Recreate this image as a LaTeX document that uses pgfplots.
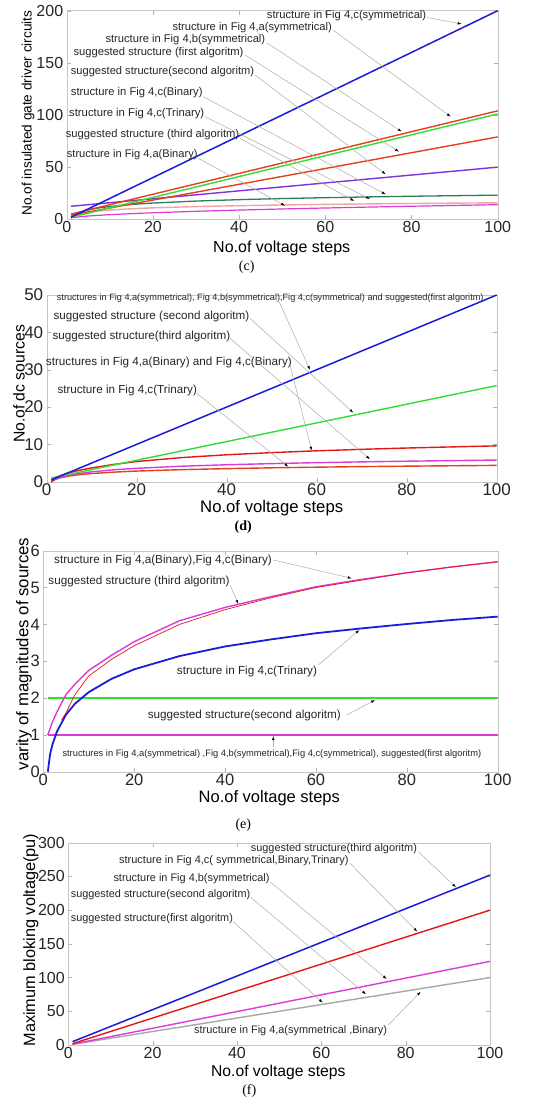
\documentclass[border=0pt]{standalone}
\usepackage{fontspec}
\setmainfont{Liberation Sans}
\newfontfamily\serif{Liberation Serif}
\usepackage{graphicx}
\usepackage{pgfplots}
\pgfplotsset{compat=1.18}
\usetikzlibrary{arrows.meta}

\definecolor{cblue}{HTML}{1C1CD8}
\definecolor{cred}{HTML}{E4401E}
\definecolor{pred}{HTML}{E41616}
\definecolor{cgreen}{HTML}{33DD33}
\definecolor{cpurple}{HTML}{8030E0}
\definecolor{dgreen}{HTML}{2E7D5E}
\definecolor{salmon}{HTML}{F2A4A0}
\definecolor{cmag}{HTML}{DA3CDA}
\definecolor{cgray}{HTML}{A8A8A8}

\pgfplotsset{
  mat/.style={
    scale only axis, anchor=south west,
    xmin=0, xmax=100, xtick={0,20,...,100},
    tick align=inside, major tick length=4pt,
    axis line style={gray!45}, major tick style={gray!60},
    /pgf/number format/assume math mode=true,
    tick label style={text=black!85},
    xticklabel style={yshift=1.5pt},
    clip=false,
  },
}
\tikzset{
  arr/.style={draw=gray!65, line width=0.5pt, -{Latex[length=4pt,width=2.6pt,color=black]}},
}
\newcommand\ann[4]{\node[anchor=west,inner sep=0pt,text=black!85] at (#1,#2) {\resizebox{#3pt}{!}{#4}};}

\begin{document}
\begin{tikzpicture}
\useasboundingbox (0,0) rectangle (533pt,-1102pt);
\fill[white] (0,0) rectangle (533pt,-1102pt);

% ---------------- (c) gate driver circuits
\begin{axis}[mat, at={(66.7pt,-219.3pt)}, width=431pt, height=208.6pt,
  ymin=0, ymax=200, ytick={0,50,...,200},
  tick label style={font=\fontsize{16}{16}\selectfont}]
\addplot[salmon, line width=1.4pt] coordinates {
  (1,2) (2,4.08) (3,5.3) (5,6.83) (7,7.84) (10,8.91) (15,10.12) (20,10.99)
  (30,12.2) (40,13.07) (50,13.74) (60,14.28) (70,14.74) (80,15.15) (90,15.5) (100,15.82)};
\addplot[cmag, line width=1.2pt] coordinates {
  (1,1.4) (2,1.98) (3,2.42) (5,3.13) (7,3.7) (10,4.43) (15,5.42) (20,6.26)
  (30,7.67) (40,8.85) (50,9.9) (60,10.84) (70,11.71) (80,12.52) (90,13.28) (100,14)};
\addplot[dgreen, line width=1.3pt] coordinates {
  (1,1.5) (2,4.76) (3,6.66) (5,9.06) (7,10.65) (10,12.32) (15,14.23) (20,15.58)
  (30,17.48) (40,18.84) (50,19.89) (60,20.74) (70,21.47) (80,22.1) (90,22.65) (100,23.14)};
\addplot[cpurple, line width=1.4pt] coordinates {(1,12.5) (100,50)};
\addplot[cred, line width=1.4pt] coordinates {(1,4) (100,79)};
\addplot[cred, line width=1.4pt] coordinates {(1,5) (100,104)};
\addplot[cgreen, line width=1.4pt] coordinates {(1,2) (100,101)};
\addplot[cblue, line width=1.5pt] coordinates {(1,2) (100,200)};
\end{axis}

% ---------------- (d) dc sources
\begin{axis}[mat, at={(46.7pt,-481.7pt)}, width=450pt, height=186.7pt,
  ymin=0, ymax=50, ytick={0,10,...,50},
  tick label style={font=\fontsize{17}{17}\selectfont}]
\addplot[cred, line width=1.4pt] coordinates {
  (1,0) (2,0.66) (3,1.04) (5,1.53) (7,1.85) (10,2.19) (15,2.57) (20,2.85)
  (30,3.23) (40,3.5) (50,3.72) (60,3.89) (70,4.04) (80,4.16) (90,4.27) (100,4.37)};
\addplot[cmag, line width=1.4pt] coordinates {
  (1,0) (2,0.7) (3,1.1) (5,1.8) (7,2.16) (10,2.65) (15,3.2) (20,3.59)
  (30,4.15) (40,4.54) (50,4.85) (60,5.1) (70,5.31) (80,5.49) (90,5.65) (100,5.8)};
\addplot[pred, line width=1.4pt] coordinates {
  (1,0) (2,1) (3,1.6) (5,2.4) (7,3) (10,3.7) (15,4.65) (20,5.4)
  (30,6.46) (40,7.21) (50,7.79) (60,8.27) (70,8.67) (80,9.02) (90,9.32) (100,9.6)};
\addplot[cgreen, line width=1.4pt] coordinates {(1,1) (100,25.75)};
\addplot[cblue, line width=1.5pt] coordinates {(1,0.5) (100,50)};
\end{axis}

% ---------------- (e) variety of magnitudes
\begin{axis}[mat, at={(43.3pt,-771.7pt)}, width=454.4pt, height=221pt,
  ymin=0, ymax=6, ytick={0,1,...,6},
  tick label style={font=\fontsize{16.5}{16.5}\selectfont}]
\addplot[cmag, line width=1.4pt] coordinates {(1,1) (100,1)};
\addplot[cgreen, line width=1.4pt] coordinates {(1,2) (100,2)};
\addplot[cblue, line width=1.8pt] coordinates {
  (1,0) (1.5,0.48) (2,0.73) (3,1.09) (5,1.55) (7,1.85) (10,2.16) (15,2.52) (20,2.78)
  (30,3.14) (40,3.4) (50,3.59) (60,3.76) (70,3.89) (80,4.01) (90,4.12) (100,4.21)};
\addplot[cmag, line width=1.4pt] coordinates {
  (1,1) (2,1.35) (3,1.62) (5,2.1) (7,2.38) (10,2.75) (15,3.16) (20,3.53)
  (30,4.1) (40,4.46) (50,4.75) (60,5.02) (70,5.22) (80,5.4) (90,5.56) (100,5.7)};
\addplot[pred, line width=0.7pt] coordinates {
  (4,1.4) (5,1.6) (7,2.1) (10,2.6) (15,3.05) (20,3.42) (30,4) (40,4.4)
  (50,4.72) (60,5) (70,5.2) (80,5.4) (90,5.56) (100,5.7)};
\end{axis}

% ---------------- (f) maximum blocking voltage
\begin{axis}[mat, at={(68.3pt,-1045pt)}, width=421.7pt, height=202.3pt,
  ymin=0, ymax=300, ytick={0,50,...,300},
  tick label style={font=\fontsize{16}{16}\selectfont}]
\addplot[cgray, line width=1.4pt] coordinates {(1,1) (100,100)};
\addplot[cmag, line width=1.4pt] coordinates {(1,1.25) (100,124)};
\addplot[pred, line width=1.4pt] coordinates {(1,2) (100,200)};
\addplot[cblue, line width=1.5pt] coordinates {(1,5) (100,252)};
\end{axis}

\begin{scope}[x=1pt,y=-1pt]
% labels
\node[rotate=90,font=\fontsize{13.6}{14}\selectfont] at (28,113) {No.of insulated gate driver circuits};
\node[font=\fontsize{16}{16}\selectfont] at (281.7,248) {No.of voltage steps};
\node[font=\serif\fontsize{14}{14}\selectfont] at (246.7,267) {(c)};

\node[rotate=90,font=\fontsize{15.7}{16}\selectfont] at (19,384) {No.of dc sources};
\node[font=\fontsize{16.7}{17}\selectfont] at (271.7,508) {No.of voltage steps};
\node[font=\serif\bfseries\fontsize{14}{14}\selectfont] at (243.3,526.7) {(d)};

\node[rotate=90,font=\fontsize{16.8}{17}\selectfont] at (24,654) {varity of magnitudes of sources};
\node[font=\fontsize{16.5}{17}\selectfont] at (269.3,798) {No.of voltage steps};
\node[font=\serif\fontsize{14}{14}\selectfont] at (243.3,825) {(e)};

\node[rotate=90,font=\fontsize{16.3}{16}\selectfont] at (31,940) {Maximum bloking voltage(pu)};
\node[font=\fontsize{15.7}{16}\selectfont] at (278.3,1072.5) {No.of voltage steps};
\node[font=\serif\fontsize{14}{14}\selectfont] at (249.3,1090.7) {(f)};

% (c) annotations
\ann{266.7}{15.7}{159.3}{structure in Fig 4,c(symmetrical)}
\ann{172.3}{28}{159.4}{structure in Fig 4,a(symmetrical)}
\ann{105.3}{40}{159.7}{structure in Fig 4,b(symmetrical)}
\ann{73.3}{52.3}{170}{suggested structure (first algoritm)}
\ann{70.7}{71.7}{183.3}{suggested structure(second algoritm)}
\ann{70.7}{92.7}{131.6}{structure in Fig 4,c(Binary)}
\ann{69}{113.3}{135}{structure in Fig 4,c(Trinary)}
\ann{65.7}{135}{173.3}{suggested structure (third algoritm)}
\ann{66.7}{155}{130.6}{structure in Fig 4,a(Binary)}
\draw[arr] (427,17.5) -- (461.7,24);
\draw[arr] (333,30) -- (450.7,116.7);
\draw[arr] (266.7,42.7) -- (401.7,131.7);
\draw[arr] (245,55) -- (399,151.7);
\draw[arr] (255,75) -- (385.7,174.3);
\draw[arr] (203.3,96.7) -- (385.7,194.3);
\draw[arr] (205,116.7) -- (370,199);
\draw[arr] (240,138.3) -- (354.3,201);
\draw[arr] (198.3,158.3) -- (285,205.7);

% (d) annotations
\ann{56.7}{298.3}{426.6}{structures in Fig 4,a(symmetrical), Fig 4,b(symmetrical),Fig 4,c(symmetrical) and suggested(first algoritm)}
\ann{53.3}{316.7}{195.7}{suggested structure (second algoritm)}
\ann{52.3}{336}{177.7}{suggested structure(third algoritm)}
\ann{45.7}{362.3}{246}{structures in Fig 4,a(Binary) and Fig 4,c(Binary)}
\ann{57.3}{390}{139.4}{structure in Fig 4,c(Trinary)}
\draw[arr] (278.3,300) -- (310,370);
\draw[arr] (250,318.3) -- (353.3,412.7);
\draw[arr] (230,338.3) -- (370,459.3);
\draw[arr] (290,365) -- (311.7,450.7);
\draw[arr] (196.7,393.3) -- (288.3,466.7);

% (e) annotations
\ann{54}{560}{217.7}{structure in Fig 4,a(Binary),Fig 4,c(Binary)}
\ann{48.3}{581.7}{181}{suggested structure (third algoritm)}
\ann{176.7}{671}{140}{structure in Fig 4,c(Trinary)}
\ann{147.7}{715.7}{193}{suggested structure(second algoritm)}
\ann{62.3}{754.3}{418.7}{structures in Fig 4,a(symmetrical) ,Fig 4,b(symmetrical),Fig 4,c(symmetrical), suggested(first algoritm)}
\draw[arr] (273.3,560) -- (351.7,578.3);
\draw[arr] (230,585) -- (238.3,604);
\draw[arr] (318.3,665) -- (359.3,630);
\draw[arr] (346.7,715) -- (375,700);
\draw[arr] (273.3,746.7) -- (273.3,736);

% (f) annotations
\ann{250.7}{849}{166}{suggested structure(third algoritm)}
\ann{119}{860.7}{229.3}{structure in Fig 4,c( symmetrical,Binary,Trinary)}
\ann{113.3}{879}{156}{structure in Fig 4,b(symmetrical)}
\ann{70.7}{894.3}{179.3}{suggested structure(second algoritm)}
\ann{70.7}{918.3}{162}{suggested structure(first algoritm)}
\ann{194}{1030.7}{192.7}{structure in Fig 4,a(symmetrical ,Binary)}
\draw[arr] (418.3,851.7) -- (456,887.3);
\draw[arr] (350,863.3) -- (417.3,931.7);
\draw[arr] (270,881.7) -- (386.7,979);
\draw[arr] (250.7,897.3) -- (366,994.3);
\draw[arr] (233.3,921.7) -- (322.7,1002.7);
\draw[arr] (388.3,1025) -- (420.7,991.7);
\end{scope}
\end{tikzpicture}
\end{document}
